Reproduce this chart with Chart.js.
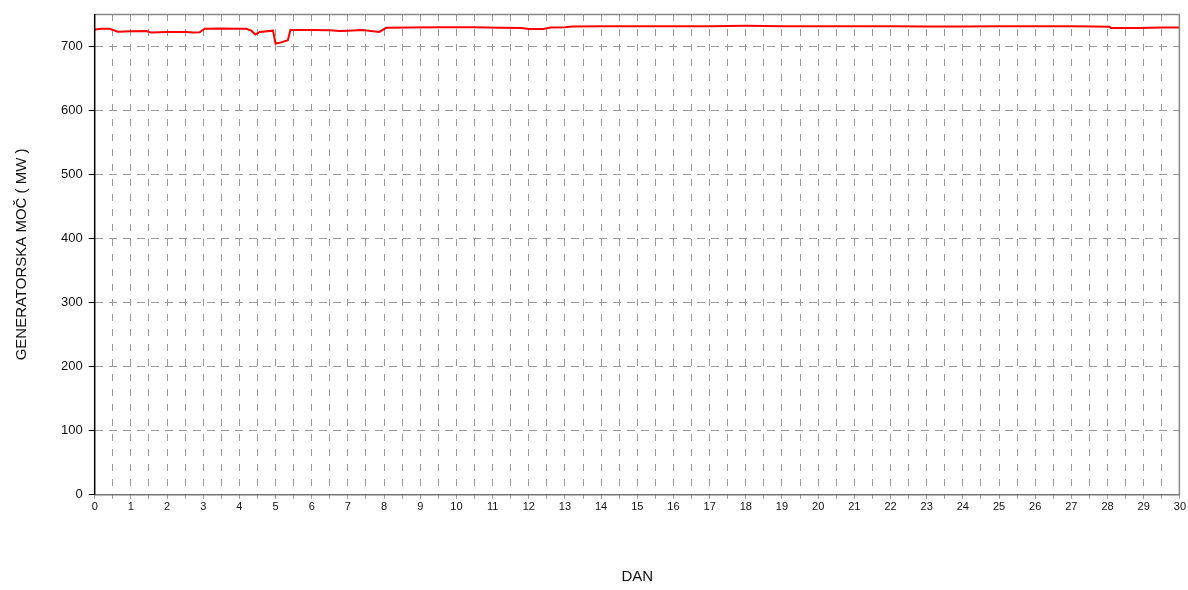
<!DOCTYPE html>
<html>
<head>
<meta charset="utf-8">
<script src="https://cdn.jsdelivr.net/npm/chart.js@4/dist/chart.umd.min.js"></script>
<style>
html,body{margin:0;padding:0;background:#fff;overflow:hidden;}
#wrap{width:1188px;height:590px;position:relative;}
</style>
</head>
<body>
<div id="wrap"><canvas id="c" width="1188" height="590"></canvas></div>
<script>
const days = [0, 0.2, 0.41, 0.64, 1.0, 1.43, 1.56, 2.0, 2.53, 2.71, 2.9, 3.04, 3.5, 4.0, 4.19, 4.33, 4.44, 4.56, 4.93, 5.0, 5.11, 5.34, 5.41, 6.03, 6.5, 6.77, 7.0, 7.4, 7.87, 8.06, 8.7, 9.5, 10.5, 11.2, 11.8, 12.0, 12.4, 12.6, 13.0, 13.2, 14.0, 15.0, 16.0, 17.0, 18.0, 19.0, 20.0, 21.0, 22.0, 23.0, 24.0, 25.0, 26.0, 27.0, 27.6, 28.05, 28.1, 28.9, 29.5, 30.0];
const power = [726, 727, 727, 722.5, 723, 723.5, 721, 722, 722, 721, 721.5, 727, 727.5, 727, 727, 724, 718, 722, 724, 704, 705, 709, 725, 725, 724.5, 723.5, 724, 725, 722, 728.5, 729, 729.5, 729.5, 728.5, 728, 726.5, 726.5, 729, 729.5, 730.5, 731, 731, 731, 731, 731.5, 731, 731, 731, 731, 730.5, 730.5, 731, 731, 731, 730.5, 730, 728, 728, 729, 729];
const yTicks = [0, 100, 200, 300, 400, 500, 600, 700];
const xLabelStep = 1;

const pts = days.map((d, i) => ({x: d, y: power[i]}));

const framePlugin = {
  id: 'frame',
  afterDraw(chart) {
    const a = chart.chartArea, ctx = chart.ctx;
    ctx.save();
    ctx.setLineDash([]);
    ctx.strokeStyle = '#888';
    ctx.lineWidth = 1.5;
    ctx.beginPath();
    ctx.moveTo(a.left, a.top + 0.5);
    ctx.lineTo(a.right - 0.5, a.top + 0.5);
    ctx.lineTo(a.right - 0.5, a.bottom);
    ctx.stroke();
    ctx.strokeStyle = '#777';
    ctx.beginPath();
    ctx.moveTo(a.left, a.bottom);
    ctx.lineTo(a.right, a.bottom);
    ctx.stroke();
    ctx.strokeStyle = '#000';
    ctx.lineWidth = 1.5;
    ctx.beginPath();
    ctx.moveTo(a.left, a.top);
    ctx.lineTo(a.left, a.bottom);
    ctx.stroke();
    ctx.restore();
  }
};

new Chart(document.getElementById('c'), {
  type: 'scatter',
  data: {
    datasets: [{
      data: pts,
      showLine: true,
      borderColor: '#ff0000',
      backgroundColor: '#ff0000',
      borderWidth: 2,
      pointRadius: 0,
      tension: 0
    }]
  },
  options: {
    responsive: false,
    animation: false,
    devicePixelRatio: 1,
    layout: {padding: {top: 14, right: 7, left: 13, bottom: 4}},
    plugins: {legend: {display: false}, tooltip: {enabled: false}},
    scales: {
      x: {
        type: 'linear',
        min: 0, max: 30,
        border: {display: false, dash: [7, 8]},
        ticks: {
          stepSize: 0.5,
          autoSkip: false,
          maxRotation: 0,
          color: '#111',
          font: {family: 'Liberation Sans, Arial', size: 11},
          padding: 2,
          callback: v => (Number.isInteger(v) && v % xLabelStep === 0) ? String(v) : ''
        },
        grid: {
          color: '#9a9a9a',
          lineWidth: 1,
          tickLength: 4,
          tickColor: '#9a9a9a',
          tickBorderDash: []
        },
        title: {
          display: true,
          text: 'DAN',
          color: '#111',
          font: {family: 'Liberation Sans, Arial', size: 15},
          padding: {top: 52, bottom: 0}
        }
      },
      y: {
        min: 0, max: 750,
        border: {display: false, dash: [8, 6]},
        afterBuildTicks: s => { s.ticks = yTicks.map(v => ({value: v})); },
        ticks: {
          color: '#111',
          font: {family: 'Liberation Sans, Arial', size: 13},
          padding: 6,
          includeBounds: false
        },
        grid: {
          color: '#9a9a9a',
          lineWidth: 1,
          tickLength: 6,
          tickColor: '#000',
          tickBorderDash: []
        },
        title: {
          display: true,
          text: 'GENERATORSKA MOČ ( MW )',
          color: '#111',
          font: {family: 'Liberation Sans, Arial', size: 15},
          padding: {top: 0, bottom: 24}
        }
      }
    }
  },
  plugins: [framePlugin]
});
</script>
</body>
</html>
